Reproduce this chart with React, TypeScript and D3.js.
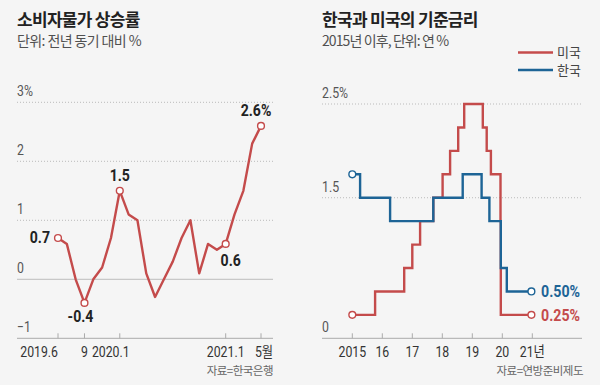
import React from 'react';
import * as d3 from 'd3';

// 소비자물가 상승률 (전년 동기 대비 %)
const cpiMonths = [
  '2019.6', '2019.7', '2019.8', '2019.9', '2019.10', '2019.11', '2019.12',
  '2020.1', '2020.2', '2020.3', '2020.4', '2020.5', '2020.6', '2020.7', '2020.8',
  '2020.9', '2020.10', '2020.11', '2020.12', '2021.1', '2021.2', '2021.3', '2021.4', '2021.5',
];
const cpiValues = [0.7, 0.6, 0.0, -0.4, 0.0, 0.2, 0.7, 1.5, 1.1, 1.0, 0.1, -0.3, 0.0, 0.3, 0.7,
  1.0, 0.1, 0.6, 0.5, 0.6, 1.1, 1.5, 2.3, 2.6];
const cpiTicks = ['2019.6', '2019.9', '2020.1', '2021.1', '2021.5'];
const cpiTickLabels = ['2019.6', '9', '2020.1', '2021.1', '5월'];
const cpiYTicks = [3, 2, 1, 0, -1];
const cpiMarked = ['2019.6', '2019.9', '2020.1', '2021.1', '2021.5'];
const cpiMarkLabels = ['0.7', '-0.4', '1.5', '0.6', '2.6%'];

// 기준금리 (연 %), 변경 시점(연도)
const usDates = [2015, 2015.76, 2016.73, 2017.0, 2017.26, 2017.7, 2018.01, 2018.26, 2018.53,
  2018.73, 2019.35, 2019.48, 2019.62, 2019.94, 2019.95, 2020.97];
const usRates = [0.25, 0.5, 0.75, 1.0, 1.25, 1.5, 1.75, 2.0, 2.25, 2.5, 2.25, 2.0, 1.75, 1.25, 0.25, 0.25];
const krDates = [2015, 2015.26, 2016.26, 2017.7, 2018.68, 2019.31, 2019.57, 2019.95, 2020.15, 2020.97];
const krRates = [1.75, 1.5, 1.25, 1.5, 1.75, 1.5, 1.25, 0.75, 0.5, 0.5];
const rateYears = [2015, 2016, 2017, 2018, 2019, 2020, 2021];
const rateYearLabels = ['2015', '16', '17', '18', '19', '20', '21년'];
const rateYTicks = [2.5, 1.5, 0];
const rateYTickLabels = ['2.5%', '1.5', '0'];

const RED = '#c44b4b';
const BLUE = '#1d6496';
const NUM = 'Roboto, "Noto Sans CJK KR", sans-serif';
const KR = '"Noto Sans CJK KR", sans-serif';

// narrow numerals: roboto squeezed horizontally
function NText({ x, y, anchor = 'start', size = 15, weight = 400, fill = '#555', sx = 0.82, children }: any) {
  return (
    <text transform={`translate(${x},${y}) scale(${sx},1)`} textAnchor={anchor} fontFamily={NUM}
      fontSize={size} fontWeight={weight} fill={fill}>{children}</text>
  );
}

function CpiChart() {
  const x = d3.scalePoint<string>().domain(cpiMonths).range([58, 261]);
  const y = d3.scaleLinear().domain([-1, 3]).range([338.3, 102.3]);
  const line = d3.line<number>()
    .x((d, i) => x(cpiMonths[i]) as number)
    .y(d => y(d));
  const labelPos: Record<string, [number, number, string]> = {
    '0.7': [-8, 5, 'end'], '-0.4': [-4, 19, 'middle'], '1.5': [0, -10, 'middle'],
    '0.6': [5, 22, 'middle'], '2.6%': [-5, -10, 'middle'],
  };
  const tickShift = [0, 0, -9, 0, 3];
  return (
    <g>
      <text x={17} y={26} fontFamily={KR} fontWeight={700} fontSize={17} fill="#222" letterSpacing={-0.7}>소비자물가 상승률</text>
      <text x={17} y={46} fontFamily={KR} fontSize={14} fill="#505050" letterSpacing={-0.6}>단위: 전년 동기 대비 %</text>
      {cpiYTicks.map(t => (
        <g key={t}>
          {t > 0 && <line x1={17} x2={273} y1={y(t)} y2={y(t)} stroke="#bbb" strokeDasharray="1,2" />}
          {t === 0 && <line x1={17} x2={273} y1={y(t)} y2={y(t)} stroke="#c8c8c8" strokeWidth={1.2} />}
          <NText x={17} y={y(t) - 6}>{t === 3 ? '3%' : t === -1 ? '−1' : t}</NText>
        </g>
      ))}
      <line x1={17} x2={273} y1={y(-1)} y2={y(-1)} stroke="#aaa" />
      {cpiTicks.map((m, i) => (
        <g key={m}>
          <line x1={x(m)} x2={x(m)} y1={y(-1) - 5} y2={y(-1)} stroke="#aaa" />
          <NText x={(x(m) as number) + tickShift[i]} y={356.5} fill="#333"
            anchor={i === 0 ? 'end' : 'middle'}>{cpiTickLabels[i]}</NText>
        </g>
      ))}
      <path d={line(cpiValues) || ''} fill="none" stroke={RED} strokeWidth={2.4} strokeLinejoin="round" />
      {cpiMarked.map((m, i) => {
        const v = cpiValues[cpiMonths.indexOf(m)];
        const [dx, dy, anchor] = labelPos[cpiMarkLabels[i]];
        return (
          <g key={m}>
            <circle cx={x(m)} cy={y(v)} r={3.4} fill="#fff" stroke={RED} strokeWidth={1.4} />
            <NText x={(x(m) as number) + dx} y={y(v) + dy} anchor={anchor} weight={700}
              size={16} fill="#222" sx={0.88}>{cpiMarkLabels[i]}</NText>
          </g>
        );
      })}
      <text x={273} y={375} textAnchor="end" fontFamily={KR} fontSize={11.5} fill="#666" letterSpacing={-0.5}>자료=한국은행</text>
    </g>
  );
}

function RateChart() {
  const x = d3.scaleLinear().domain([2015, 2021]).range([352.3, 532.3]);
  const y = d3.scaleLinear().domain([0, 2.5]).range([338.3, 104]);
  const step = (dates: number[]) => d3.line<number>()
    .x((d, i) => x(dates[i]))
    .y(d => y(d))
    .curve(d3.curveStepAfter);
  const usLast = usRates.length - 1;
  const krLast = krRates.length - 1;
  return (
    <g>
      <text x={322} y={26} fontFamily={KR} fontWeight={700} fontSize={17} fill="#222" letterSpacing={-0.7}>한국과 미국의 기준금리</text>
      <text x={322} y={46} fontFamily={KR} fontSize={14} fill="#505050" letterSpacing={-0.9}>2015년 이후, 단위: 연 %</text>
      <line x1={518} x2={553} y1={52.5} y2={52.5} stroke={RED} strokeWidth={2.4} />
      <text x={557} y={57} fontFamily={KR} fontSize={13} fill="#444">미국</text>
      <line x1={518} x2={553} y1={70} y2={70} stroke={BLUE} strokeWidth={2.4} />
      <text x={557} y={74.5} fontFamily={KR} fontSize={13} fill="#444">한국</text>
      {rateYTicks.map((t, i) => (
        <g key={t}>
          {t > 0 && <line x1={322} x2={582} y1={y(t)} y2={y(t)} stroke="#bbb" strokeDasharray="1,2" />}
          <NText x={322} y={y(t) - 6}>{rateYTickLabels[i]}</NText>
        </g>
      ))}
      <line x1={322} x2={582} y1={y(0)} y2={y(0)} stroke="#aaa" />
      {rateYears.map((yr, i) => (
        <g key={yr}>
          <line x1={x(yr)} x2={x(yr)} y1={y(0) - 5} y2={y(0)} stroke="#aaa" />
          <NText x={x(yr)} y={356.5} anchor="middle" fill="#333">{rateYearLabels[i]}</NText>
        </g>
      ))}
      <path d={step(usDates)(usRates) || ''} fill="none" stroke={RED} strokeWidth={2.4} />
      <path d={step(krDates)(krRates) || ''} fill="none" stroke={BLUE} strokeWidth={2.4} />
      <circle cx={x(usDates[0])} cy={y(usRates[0])} r={3.4} fill="#fff" stroke={RED} strokeWidth={1.4} />
      <circle cx={x(usDates[usLast])} cy={y(usRates[usLast])} r={3.4} fill="#fff" stroke={RED} strokeWidth={1.4} />
      <circle cx={x(krDates[0])} cy={y(krRates[0])} r={3.4} fill="#fff" stroke={BLUE} strokeWidth={1.4} />
      <circle cx={x(krDates[krLast])} cy={y(krRates[krLast])} r={3.4} fill="#fff" stroke={BLUE} strokeWidth={1.4} />
      <NText x={541} y={y(krRates[krLast]) + 6} weight={700} size={16.5} fill={BLUE} sx={0.86}>0.50%</NText>
      <NText x={541} y={y(usRates[usLast]) + 6} weight={700} size={16.5} fill={RED} sx={0.86}>0.25%</NText>
      <text x={583} y={375} textAnchor="end" fontFamily={KR} fontSize={11.5} fill="#666" letterSpacing={-0.5}>자료=연방준비제도</text>
    </g>
  );
}

export default function App() {
  return (
    <div style={{ position: 'absolute', left: 0, top: 0 }}>
      <svg width={600} height={385} style={{ display: 'block', background: '#f5f5f5' }}>
        <CpiChart />
        <RateChart />
      </svg>
    </div>
  );
}
